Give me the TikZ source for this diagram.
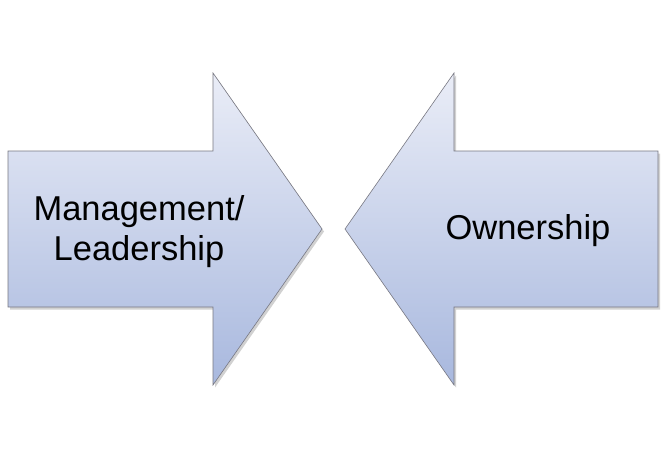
\documentclass[tikz,border=0pt]{standalone}
\usepackage{fontspec}
\setmainfont{Liberation Sans}
\definecolor{arrtop}{RGB}{234,237,247}
\definecolor{arrbot}{RGB}{168,184,222}
\definecolor{arredge}{RGB}{120,120,130}
\tikzset{
  arrowshape/.style={top color=arrtop, bottom color=arrbot, draw=arredge, line width=0.6pt, line join=miter},
  shadowshape/.style={fill=black, fill opacity=0.18, draw=none},
  lbl/.style={font=\fontsize{34.5}{40}\selectfont, align=center, inner sep=0pt, text=black}
}
\begin{document}
\begin{tikzpicture}[x=1pt,y=-1pt]
\useasboundingbox (0,0) rectangle (667,460);
\fill[white] (0,0) rectangle (667,460);
% shadows
\path[shadowshape, shift={(2,2.5)}] (8,151) -- (213,151) -- (213,73) -- (322,229) -- (213,385) -- (213,307) -- (8,307) -- cycle;
\path[shadowshape, shift={(2,2.5)}] (658,151) -- (454,151) -- (454,73) -- (345,229) -- (454,385) -- (454,307) -- (658,307) -- cycle;
% left arrow
\path[arrowshape] (8,151) -- (213,151) -- (213,73) -- (322,229) -- (213,385) -- (213,307) -- (8,307) -- cycle;
% right arrow
\path[arrowshape] (658,151) -- (454,151) -- (454,73) -- (345,229) -- (454,385) -- (454,307) -- (658,307) -- cycle;
\node[lbl] (mgmt) at (139,232) {Management/\\Leadership};
\node[lbl] (own) at (528,231) {Ownership};
\end{tikzpicture}
\end{document}
